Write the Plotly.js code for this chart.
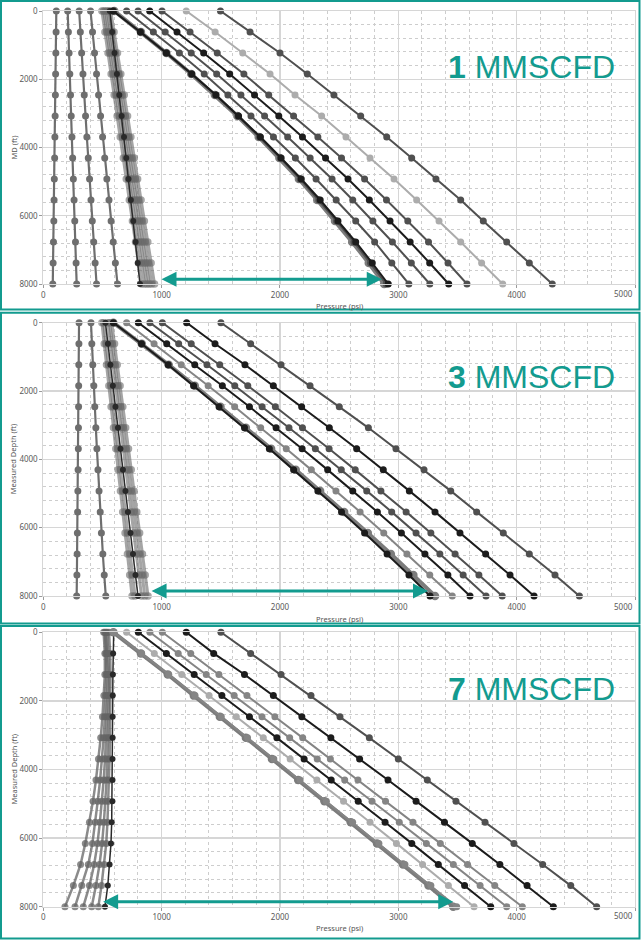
<!DOCTYPE html>
<html><head><meta charset="utf-8">
<script src="https://cdn.plot.ly/plotly-3.0.1.min.js"></script>
<style>html,body{margin:0;padding:0;background:#fff;}#chart{width:641px;height:940px;}</style>
</head><body><div id="chart"></div>
<script>
// ---------- DATA ----------
const depthFt = [0, 615, 1231, 1846, 2462, 3077, 3692, 4308, 4923, 5538, 6154, 6769, 7385, 8000];
const rateLabels = ['1', '3', '7'];
const yTitles = ['MD (ft)', 'Measured Depth (ft)', 'Measured Depth (ft)'];
const xTitle = 'Pressure (psi)';

// 1 MMSCFD
const p1Low = [
  [110, 108, 106, 104, 102, 100, 98, 96, 93, 91, 89, 86, 83, 80],
  [206, 212, 218, 224, 230, 236, 242, 248, 254, 260, 266, 272, 277, 282],
  [303, 313, 324, 335, 346, 357, 368, 380, 391, 403, 414, 426, 438, 450],
  [399, 416, 433, 450, 467, 484, 501, 519, 537, 555, 573, 591, 609, 627]
];
const p1Bundle = [
  [495, 521, 547, 573, 599, 624, 650, 676, 701, 727, 753, 779, 805, 830],
  [510, 537, 563, 590, 616, 643, 669, 696, 722, 749, 775, 802, 828, 855],
  [525, 552, 579, 606, 633, 660, 687, 714, 741, 768, 795, 822, 849, 875],
  [540, 567, 595, 622, 649, 677, 704, 731, 759, 786, 813, 841, 868, 895],
  [555, 583, 610, 638, 666, 693, 721, 749, 777, 804, 832, 860, 887, 915],
  [570, 598, 627, 655, 684, 712, 740, 769, 797, 826, 854, 883, 911, 940]
];
const p1BundleBlack = [562, 582, 602, 622, 642, 662, 682, 701, 720, 740, 760, 780, 798, 817];
const p1Diag = [
  [600, 825, 1040, 1250, 1450, 1640, 1820, 1995, 2160, 2315, 2465, 2610, 2750, 2880],
  [595, 822, 1040, 1252, 1455, 1645, 1828, 2003, 2170, 2328, 2478, 2625, 2765, 2898],
  [590, 820, 1040, 1255, 1460, 1650, 1835, 2010, 2180, 2340, 2490, 2640, 2780, 2915],
  [704, 930, 1150, 1360, 1560, 1755, 1945, 2130, 2305, 2475, 2640, 2800, 2945, 3089],
  [801, 1030, 1250, 1465, 1670, 1870, 2065, 2255, 2440, 2615, 2785, 2950, 3110, 3266],
  [899, 1130, 1355, 1575, 1785, 1990, 2190, 2385, 2575, 2755, 2930, 3100, 3265, 3426],
  [1003, 1240, 1470, 1695, 1905, 2115, 2320, 2520, 2715, 2900, 3080, 3255, 3420, 3580],
  [1208, 1452, 1685, 1916, 2127, 2352, 2558, 2761, 2964, 3155, 3344, 3527, 3704, 3882],
  [1497, 1747, 2000, 2231, 2456, 2682, 2902, 3113, 3318, 3527, 3718, 3916, 4107, 4301]
];

// 3 MMSCFD
const p2Low = [
  [302, 301, 300, 299, 298, 297, 296, 294, 292, 290, 288, 286, 284, 282],
  [403, 410, 418, 427, 435, 444, 453, 462, 471, 481, 491, 503, 515, 528]
];
const p2Bundle = [
  [495, 515, 534, 554, 573, 593, 613, 632, 652, 671, 691, 711, 730, 750],
  [510, 530, 551, 571, 592, 612, 632, 653, 673, 694, 714, 734, 755, 775],
  [545, 567, 589, 611, 633, 655, 677, 698, 720, 742, 764, 786, 808, 830],
  [560, 583, 606, 629, 652, 675, 698, 720, 743, 766, 789, 812, 835, 858],
  [578, 602, 625, 649, 672, 696, 720, 743, 767, 790, 814, 838, 861, 885]
];
const p2BundleBlack = [525, 546, 567, 588, 610, 631, 652, 673, 694, 715, 737, 758, 779, 800];
const p2Diag = [
  [592, 832, 1060, 1280, 1497, 1712, 1925, 2133, 2339, 2542, 2742, 2937, 3127, 3310],
  [592, 830, 1055, 1270, 1485, 1700, 1910, 2115, 2320, 2520, 2715, 2905, 3090, 3268],
  [704, 936, 1166, 1393, 1617, 1837, 2053, 2265, 2473, 2677, 2877, 3073, 3266, 3456],
  [803, 1043, 1280, 1513, 1742, 1967, 2187, 2403, 2615, 2823, 3026, 3225, 3419, 3606],
  [901, 1144, 1383, 1618, 1849, 2076, 2299, 2518, 2733, 2944, 3150, 3351, 3548, 3741],
  [1006, 1250, 1491, 1728, 1961, 2190, 2415, 2636, 2853, 3066, 3275, 3480, 3681, 3878],
  [1211, 1451, 1704, 1944, 2183, 2417, 2648, 2873, 3093, 3310, 3521, 3738, 3944, 4147],
  [1501, 1752, 2009, 2254, 2501, 2747, 2980, 3217, 3443, 3662, 3887, 4107, 4324, 4530]
];

// 7 MMSCFD
const p3Low = [];
const p3Bundle = [
  [510, 520, 520, 512, 500, 485, 466, 445, 420, 390, 355, 315, 254, 183],
  [520, 530, 532, 528, 520, 510, 497, 480, 460, 440, 415, 380, 325, 268],
  [530, 540, 545, 542, 537, 530, 522, 510, 495, 478, 458, 430, 390, 338],
  [540, 550, 556, 555, 552, 548, 542, 535, 525, 512, 497, 475, 445, 409],
  [555, 565, 568, 568, 566, 563, 560, 556, 550, 542, 532, 515, 492, 465]
];
const p3BundleBlack = [595, 590, 588, 587, 586, 586, 585, 585, 584, 578, 572, 560, 545, 521];
const p3Diag = [
  [592, 825, 1052, 1272, 1492, 1712, 1932, 2154, 2376, 2598, 2820, 3040, 3255, 3464],
  [595, 830, 1060, 1282, 1504, 1726, 1948, 2170, 2392, 2614, 2836, 3056, 3275, 3493],
  [704, 938, 1170, 1401, 1631, 1859, 2086, 2312, 2537, 2761, 2984, 3205, 3423, 3640],
  [803, 1040, 1275, 1509, 1742, 1974, 2204, 2433, 2661, 2888, 3114, 3338, 3560, 3781],
  [901, 1140, 1377, 1613, 1848, 2082, 2315, 2547, 2778, 3008, 3237, 3465, 3691, 3916],
  [1006, 1246, 1484, 1721, 1957, 2192, 2426, 2659, 2892, 3124, 3355, 3585, 3815, 4048],
  [1208, 1440, 1700, 1944, 2185, 2430, 2673, 2913, 3150, 3390, 3625, 3858, 4088, 4310],
  [1501, 1752, 2009, 2262, 2507, 2755, 3000, 3245, 3487, 3733, 3977, 4220, 4457, 4676]
];

// arrow spans [from psi, to psi, depth]
const arrowSpans = [[986, 2860, 7862], [902, 3251, 7854], [493, 3464, 7854]];

// ---------- STYLES ----------
const teal = '#139B8F';
const styles = {
  low:    {color: '#6e6e6e', width: 2.2, size: 7},
  bundle: {color: 'rgba(105,105,105,0.6)', width: 3, size: 7.5},
  bundle3:{color: 'rgba(100,100,100,0.75)', width: 2.5, size: 7},
  bblack: {color: '#2a2a2a', width: 1.5, size: 6},
  thick:  {color: '#7c7c7c', width: 4, size: 8.5},
  dark:   {color: '#505050', width: 2, size: 7},
  black:  {color: '#1c1c1c', width: 2, size: 7},
  light:  {color: '#acacac', width: 2, size: 7},
  mid:    {color: '#858585', width: 2, size: 7}
};
const bundleKinds = ['bundle', 'bundle', 'bundle3'];
const diagKinds = [
  ['thick', 'dark', 'black', 'dark', 'dark', 'black', 'dark', 'light', 'dark'],
  ['thick', 'black', 'mid', 'black', 'dark', 'dark', 'black', 'dark'],
  ['thick', 'mid', 'light', 'black', 'mid', 'mid', 'black', 'dark']
];
const panels = [
  {low: p1Low, bundle: p1Bundle, bblack: p1BundleBlack, diag: p1Diag},
  {low: p2Low, bundle: p2Bundle, bblack: p2BundleBlack, diag: p2Diag},
  {low: p3Low, bundle: p3Bundle, bblack: p3BundleBlack, diag: p3Diag}
];

const W = 641, H = 940;
const px = v => v / W, py = v => 1 - v / H;
const plotPx = [[11, 284], [322.7, 596], [632.3, 906.7]];
const borderPx = [[1, 309.5], [312.7, 623.5], [626, 938.5]];
const bigLabelY = [66.8, 376.8, 688.8];
const xTitleY = [306, 619, 928];
const tickY = [294, 606, 915];

const traces = [];
function addTrace(vals, kind, i) {
  const s = styles[kind];
  const sfx = i === 0 ? '' : String(i + 1);
  traces.push({
    x: vals, y: depthFt, type: 'scatter', mode: 'lines+markers',
    xaxis: 'x' + sfx, yaxis: 'y' + sfx, cliponaxis: false,
    line: {color: s.color, width: s.width},
    marker: {color: s.color, size: s.size},
    hoverinfo: 'skip', showlegend: false
  });
}
panels.forEach((p, i) => {
  p.low.forEach(v => addTrace(v, 'low', i));
  p.bundle.forEach(v => addTrace(v, bundleKinds[i], i));
  addTrace(p.bblack, 'bblack', i);
  p.diag.forEach((v, k) => addTrace(v, diagKinds[i][k], i));
});

const tickFont = {family: 'Noto Sans, sans-serif', size: 8, color: '#5a5a5a'};
const layout = {
  width: W, height: H, margin: {l: 0, r: 0, t: 0, b: 0},
  paper_bgcolor: '#fff', plot_bgcolor: '#fff',
  shapes: [], annotations: []
};
for (let i = 0; i < 3; i++) {
  const sfx = i === 0 ? '' : String(i + 1);
  layout['xaxis' + sfx] = {
    domain: [px(43.3), px(635)], range: [0, 5000], anchor: 'y' + sfx,
    tickmode: 'linear', tick0: 0, dtick: 1000, ticklabeloverflow: 'hide past div',
    showgrid: true, gridcolor: '#d6d6d6', gridwidth: 1.2, zeroline: false,
    minor: {tickmode: 'linear', tick0: 0, dtick: 200, showgrid: true, gridcolor: '#cdcdcd', griddash: 'dot', gridwidth: 1},
    showline: true, mirror: true, linecolor: '#d6d6d6', linewidth: 1,
    ticks: 'outside', ticklen: 3, tickcolor: '#9a9a9a', tickfont: tickFont, fixedrange: true
  };
  layout['yaxis' + sfx] = {
    domain: [py(plotPx[i][1]), py(plotPx[i][0])], range: [8000, 0], anchor: 'x' + sfx,
    tickmode: 'linear', tick0: 0, dtick: 2000,
    showgrid: true, gridcolor: '#d6d6d6', gridwidth: 1.2, zeroline: false,
    minor: {tickmode: 'linear', tick0: 0, dtick: 400, showgrid: true, gridcolor: '#cdcdcd', griddash: 'dot', gridwidth: 1},
    showline: true, mirror: true, linecolor: '#d6d6d6', linewidth: 1,
    ticks: 'outside', ticklen: 3, tickcolor: '#9a9a9a', tickfont: tickFont, fixedrange: true
  };
  layout.shapes.push({
    type: 'rect', xref: 'paper', yref: 'paper',
    x0: px(1), x1: px(639.5), y0: py(borderPx[i][1]), y1: py(borderPx[i][0]),
    line: {color: teal, width: 2}, fillcolor: 'rgba(0,0,0,0)', layer: 'above'
  });
  layout.annotations.push({
    xref: 'paper', yref: 'paper', x: px(617), y: py(bigLabelY[i]),
    xanchor: 'right', yanchor: 'middle', showarrow: false,
    text: '<b>' + rateLabels[i] + '</b> MMSCFD',
    font: {family: 'Liberation Sans, Arial, sans-serif', size: 32, color: teal}
  });
  layout.annotations.push({
    xref: 'paper', yref: 'paper', x: px(339), y: py(xTitleY[i]),
    xanchor: 'center', yanchor: 'middle', showarrow: false, text: xTitle,
    font: {family: 'Noto Sans, sans-serif', size: 7.5, color: '#555'}
  });
  layout.annotations.push({
    xref: 'paper', yref: 'paper', x: px(13), y: py((plotPx[i][0] + plotPx[i][1]) / 2),
    xanchor: 'center', yanchor: 'middle', showarrow: false, textangle: -90, text: yTitles[i],
    font: {family: 'Noto Sans, sans-serif', size: 7.5, color: '#555'}
  });
  layout.annotations.push({
    xref: 'paper', yref: 'paper', x: px(623), y: py(tickY[i]),
    xanchor: 'center', yanchor: 'middle', showarrow: false, text: '5000', font: tickFont
  });
  const a = arrowSpans[i];
  layout.annotations.push({
    xref: 'x' + sfx, yref: 'y' + sfx, axref: 'x' + sfx, ayref: 'y' + sfx,
    x: a[1], y: a[2], ax: a[0], ay: a[2], text: '', showarrow: true,
    arrowhead: 2, startarrowhead: 2, arrowside: 'end+start',
    arrowsize: 1, startarrowsize: 1, arrowwidth: 3, arrowcolor: teal, standoff: 0, startstandoff: 0
  });
}
Plotly.newPlot('chart', traces, layout, {staticPlot: true, displayModeBar: false});
</script></body></html>
